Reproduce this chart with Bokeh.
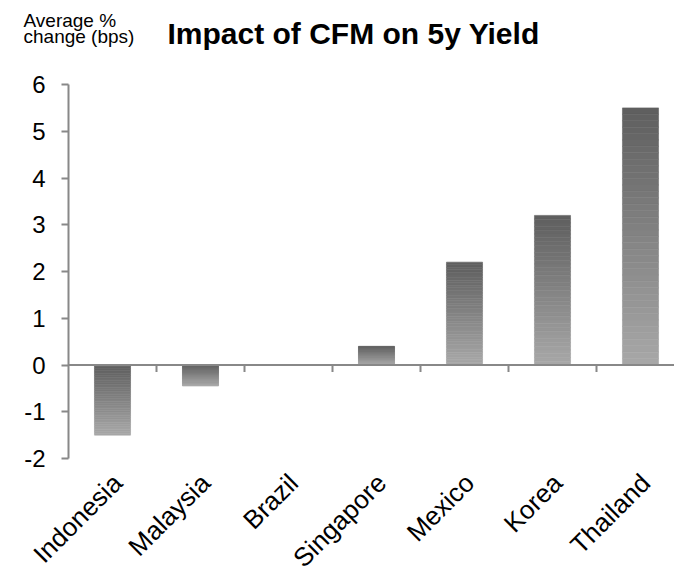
import math
from bokeh.plotting import figure
from bokeh.layouts import column
from bokeh.models import Range1d, FixedTicker, Span
from bokeh.core.properties import value
from bokeh.embed import file_html
from bokeh.resources import INLINE

# ---- data ----
categories = ["Indonesia", "Malaysia", "Brazil", "Singapore", "Mexico", "Korea", "Thailand"]
values = [-1.5, -0.45, 0.0, 0.4, 2.2, 3.2, 5.5]
y_ticks = [-2, -1, 0, 1, 2, 3, 4, 5, 6]
title_text = "Impact of CFM on 5y Yield"
axis_label_lines = ["Average %", "change (bps)"]

# ---- layout / style ----
FONT = "Liberation Sans"
W = 674
HEAD_H = 60
H = 586 - HEAD_H
LEFT, TOP, BOTTOM, RIGHT = 68, 84 - HEAD_H, 128, 0
frame_w = W - LEFT - RIGHT
frame_h = H - TOP - BOTTOM
cat_px = 88.0
x_end = frame_w / cat_px
y_start, y_end = y_ticks[0], y_ticks[-1]
px_per_unit = frame_h / (y_end - y_start)
AXIS_GRAY = "#888888"
DARK = (0x5e, 0x5e, 0x5e)
LIGHT = (0xa8, 0xa8, 0xa8)
BAR_W = 0.41
N_SLICES = 40
TITLE_PX, CAP_PX = 30, 19
LABEL_SHIFT = 5 / cat_px   # nudge rotated category labels along their diagonal

# ---- header (title + caption) in pixel coordinates ----
head = figure(width=W, height=HEAD_H, output_backend="svg", toolbar_location=None,
              x_range=Range1d(0, W), y_range=Range1d(HEAD_H, 0), min_border=0,
              x_axis_location=None, y_axis_location=None,
              background_fill_color="white", border_fill_color="white")
if "frame_align" in head.properties():
    head.frame_align = False
else:
    head.x_range = Range1d(LEFT, W)
head.grid.visible = False
head.outline_line_color = None
head.text(x=[167], y=[43 - 0.35 * TITLE_PX], text=[title_text], text_font=value(FONT),
          text_font_size=f"{TITLE_PX}px", text_font_style="bold", text_color="black",
          text_align="left", text_baseline="alphabetic")
head.text(x=[23, 23], y=[27 - 0.35 * CAP_PX, 42.5 - 0.35 * CAP_PX], text=axis_label_lines,
          text_font=value(FONT), text_font_size=f"{CAP_PX}px", text_color="black",
          text_align="left", text_baseline="alphabetic")

# ---- chart ----
p = figure(width=W, height=H, output_backend="svg", toolbar_location=None,
           x_range=Range1d(0, x_end), y_range=Range1d(y_start, y_end),
           min_border_left=LEFT, min_border_top=TOP, min_border_bottom=BOTTOM,
           min_border_right=RIGHT, background_fill_color="white",
           border_fill_color="white")
p.outline_line_color = None
p.grid.visible = False
if "frame_align" in p.properties():
    p.frame_align = False

# gradient bars (sliced)
lefts, rights, tops, bottoms, colors = [], [], [], [], []
for i, v in enumerate(values):
    top, bot = max(v, 0.0), min(v, 0.0)
    if top == bot:
        continue
    for k in range(N_SLICES):
        t0 = top - (top - bot) * k / N_SLICES
        t1 = top - (top - bot) * (k + 1) / N_SLICES
        f = (k + 0.5) / N_SLICES
        c = tuple(int(round(DARK[j] + (LIGHT[j] - DARK[j]) * f)) for j in range(3))
        lefts.append(i + 0.5 - BAR_W / 2)
        rights.append(i + 0.5 + BAR_W / 2)
        tops.append(t0)
        bottoms.append(t1)
        colors.append("#%02x%02x%02x" % c)
p.quad(left=lefts, right=rights, top=tops, bottom=bottoms,
       fill_color=colors, line_color=colors, line_width=0.6)

# zero line with category boundary ticks
p.add_layout(Span(location=0, dimension="width", line_color=AXIS_GRAY, line_width=2))
bounds = list(range(1, len(categories)))
tick_len = 7 / px_per_unit
p.segment(x0=bounds, y0=[0] * len(bounds), x1=bounds, y1=[-tick_len] * len(bounds),
          line_color=AXIS_GRAY, line_width=2)

# y axis
ya = p.yaxis[0]
ya.ticker = FixedTicker(ticks=y_ticks)
ya.major_label_overrides = {t: str(t) for t in y_ticks}
ya.axis_line_color = AXIS_GRAY
ya.axis_line_width = 2
ya.major_tick_line_color = AXIS_GRAY
ya.major_tick_line_width = 2
ya.major_tick_in = 0
ya.major_tick_out = 7
ya.minor_tick_line_color = None
ya.major_label_standoff = 16
ya.major_label_text_font = FONT
ya.major_label_text_font_size = "24px"
ya.major_label_text_color = "black"

# x axis (labels only)
xa = p.xaxis[0]
label_pos = [i + 0.5 + LABEL_SHIFT for i in range(len(categories))]
xa.ticker = FixedTicker(ticks=label_pos)
xa.major_label_overrides = {c: cat for c, cat in zip(label_pos, categories)}
xa.axis_line_color = None
xa.major_tick_line_color = None
xa.minor_tick_line_color = None
xa.major_tick_in = 0
xa.major_tick_out = 0
xa.major_label_orientation = math.pi / 4
xa.major_label_standoff = 20
xa.major_label_text_font = FONT
xa.major_label_text_font_size = "26px"
xa.major_label_text_color = "black"

layout = column(head, p, spacing=0)
open("out.html", "w").write(file_html(layout, INLINE))
